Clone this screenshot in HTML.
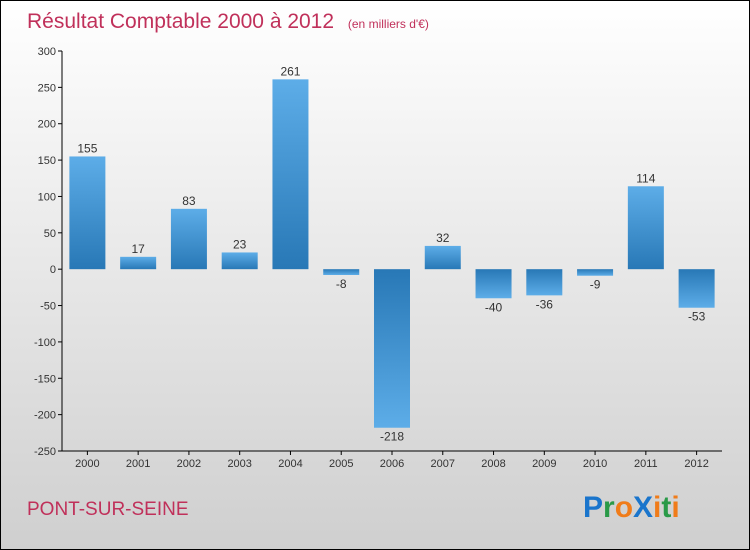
<!DOCTYPE html>
<html><head><meta charset="utf-8"><style>
body{margin:0}
#c{width:748px;height:548px;border:1px solid #000;background:linear-gradient(#ffffff,#cfcfcf);position:relative;font-family:"Liberation Sans",sans-serif;overflow:hidden}
</style></head><body>
<div id="c">
<svg width="748" height="548" xmlns="http://www.w3.org/2000/svg" id="svg">
<defs>
<linearGradient id="gp" x1="0" y1="0" x2="0" y2="1"><stop offset="0" stop-color="#5dade8"/><stop offset="1" stop-color="#2878b6"/></linearGradient>
<linearGradient id="gn" x1="0" y1="0" x2="0" y2="1"><stop offset="0" stop-color="#2878b6"/><stop offset="1" stop-color="#5dade8"/></linearGradient>
</defs>
<text x="26" y="27" font-size="21" fill="#c0305a">Résultat Comptable 2000 à 2012 <tspan font-size="12" dx="8">(en milliers d'€)</tspan></text>
<g id="axes"></g>
<g id="bars"></g>
<text x="26" y="514" font-size="19" fill="#c0305a">PONT-SUR-SEINE</text>
<g font-size="30" font-weight="bold" font-family="Liberation Sans, sans-serif">
<text x="582" y="516"><tspan fill="#1a75cc">P</tspan><tspan fill="#2a9a48">r</tspan><tspan fill="#f07c1a">o</tspan><tspan fill="#1a75cc">X</tspan><tspan fill="#f07c1a">i</tspan><tspan fill="#2a9a48">t</tspan><tspan fill="#f07c1a">i</tspan></text>
</g>
</svg>
</div>
<script>
const categories=["2000","2001","2002","2003","2004","2005","2006","2007","2008","2009","2010","2011","2012"];
const values=[155,17,83,23,261,-8,-218,32,-40,-36,-9,114,-53];
const yTicks=[300,250,200,150,100,50,0,-50,-100,-150,-200,-250];
const NS="http://www.w3.org/2000/svg";
const top0=50,bot=450,ymax=300,ymin=-250,left=61,right=721;
const y=v=>top0+(ymax-v)*(bot-top0)/(ymax-ymin);
const step=(right-left)/categories.length;
const x=i=>left+step*(i+0.5);
const ax=document.getElementById('axes'),bg=document.getElementById('bars');
function mk(t,a,p){const e=document.createElementNS(NS,t);for(const k in a)e.setAttribute(k,a[k]);p.appendChild(e);return e;}
let l=mk('line',{x1:left,y1:top0,x2:left,y2:bot,stroke:'#000'},ax);


l=mk('line',{x1:left,y1:bot,x2:right,y2:bot,stroke:'#000'},ax);


yTicks.forEach(v=>{
 mk('line',{x1:left-4,y1:y(v),x2:left,y2:y(v),stroke:'#000'},ax);
 const t=mk('text',{x:left-6,y:y(v)+4,'font-size':11,fill:'#333','text-anchor':'end'},ax);
 t.textContent=v;
 
 
});
categories.forEach((c,i)=>{
 mk('line',{x1:x(i),y1:bot,x2:x(i),y2:bot+4,stroke:'#000'},ax);
 const t=mk('text',{x:x(i),y:bot+16,'font-size':11,fill:'#333','text-anchor':'middle'},ax);
 t.textContent=c;
 
 
 const v=values[i],w=36;
 const y0=y(0),yv=y(v);
 const r=mk('rect',{x:x(i)-w/2,y:Math.min(y0,yv),width:w,height:Math.max(1,Math.abs(yv-y0)),fill:v>=0?'url(#gp)':'url(#gn)'},bg);
 
 
 const lb=mk('text',{x:x(i),y:v>=0?yv-4:yv+13,'font-size':12,fill:'#333','text-anchor':'middle'},bg);
 lb.textContent=v;
 
 
});
</script>
</body></html>
